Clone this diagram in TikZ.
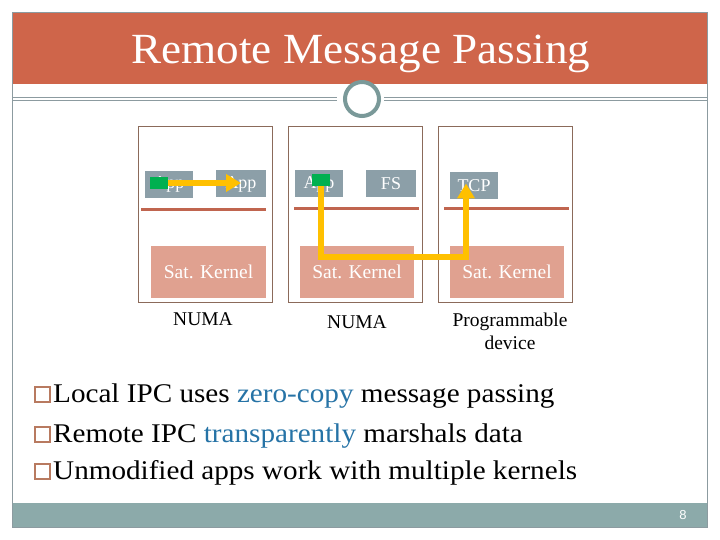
\documentclass[tikz,border=0pt]{standalone}
\usepackage{fontspec}
\setmainfont{Liberation Serif}
\newfontfamily\titlefont[FakeStretch=1.05]{Liberation Serif}
\newfontfamily\bulletfont[FakeStretch=1.08]{Liberation Serif}
\newfontfamily\pagefont{Liberation Sans}
\usepackage{tikz}
\usetikzlibrary{arrows.meta,positioning,calc}
\definecolor{titlebar}{HTML}{CF654A}
\definecolor{footbar}{HTML}{8CAAAA}
\definecolor{framegray}{HTML}{8C9BA0}
\definecolor{ringgray}{HTML}{7A9999}
\definecolor{cpuline}{HTML}{8B6A5A}
\definecolor{appfill}{HTML}{8C9FA8}
\definecolor{rule}{HTML}{C0654F}
\definecolor{kernfill}{HTML}{E0A190}
\definecolor{msggreen}{HTML}{00B050}
\definecolor{msgyellow}{HTML}{FFC000}
\definecolor{bulletbrown}{HTML}{B87A60}
\definecolor{hiblue}{HTML}{2673A6}

\begin{document}
\begin{tikzpicture}[x=1pt,y=-1pt,
  cpubox/.style={draw=cpuline,line width=0.8pt,minimum width=134pt,minimum height=176pt,inner sep=0pt},
  appbox/.style={fill=appfill,text=white,inner sep=0pt,minimum height=27pt,font=\fontsize{18}{18}\selectfont},
  kernbox/.style={fill=kernfill,text=white,inner sep=0pt,minimum height=52pt,font=\fontsize{19.5}{20}\selectfont},
  hwlabel/.style={align=center,font=\fontsize{19.5}{23}\selectfont},
  greenmark/.style={fill=msggreen,inner sep=0pt,minimum width=18pt,minimum height=12pt},
  flow/.style={draw=msgyellow,line width=6pt,-{Triangle[length=15pt,width=17pt]}}]
\useasboundingbox (0,0) rectangle (720,540);
\fill[white] (0,0) rectangle (720,540);
\fill[titlebar] (12,12) rectangle (707,84);
\fill[footbar] (12,503) rectangle (707,527);
\draw[framegray,line width=0.8pt] (12,12) rectangle (707,527);
\draw[framegray,line width=0.8pt] (12,97) -- (337,97) (384,97) -- (707,97);
\draw[framegray,line width=0.8pt] (12,100) -- (337,100) (384,100) -- (707,100);
\draw[ringgray,line width=4pt,fill=white] (362,99) circle (17);
\node[anchor=base,text=white,font=\titlefont\fontsize{43}{43}\selectfont] (title) at (361,64) {Remote Message Passing};
\node[text=white,font=\pagefont\fontsize{13}{13}\selectfont] (page) at (683,515) {8};

\foreach \i/\x in {1/138,2/288,3/438}{
  \node[cpubox] (cpu\i) at (\x+67,214) {};
}
\draw[rule,line width=3pt] (141,210) -- (266,210);
\draw[rule,line width=3pt] (294,209) -- (419,209);
\draw[rule,line width=3pt] (444,209) -- (569,209);

\node[appbox,minimum width=48pt] (app1a) at (169,184.5) {App};
\node[appbox,minimum width=50pt] (app1b) at (241,184) {App};
\node[appbox,minimum width=48pt] (app2a) at (319,184) {App};
\node[appbox,minimum width=50pt] (fs) at (391,183.5) {FS};
\node[appbox,minimum width=48pt] (tcp) at (474,185.5) {TCP};

\node[kernbox,minimum width=115pt] (kern1) at (208.5,272) {Sat. Kernel};
\node[kernbox,minimum width=114pt] (kern2) at (357,272) {Sat. Kernel};
\node[kernbox,minimum width=114pt] (kern3) at (507,272) {Sat. Kernel};

\node[hwlabel] (hw1) at (203,319) {NUMA};
\node[hwlabel] (hw2) at (357,322) {NUMA};
\node[hwlabel] (hw3) at (510,331) {Programmable\\device};

\node[greenmark] (g1) at (159,183) {};
\node[greenmark] (g2) at (321,180) {};
\coordinate (bend) at (400,257);
\draw[flow] (g1.east) -- (g1.east -| app1b.center);
\draw[flow] (g2.south) |- (bend) -| ([xshift=-8pt,yshift=2pt]tcp.center);

\foreach \y/\txt in {402/{Local IPC uses \textcolor{hiblue}{zero-copy} message passing},
  442/{Remote IPC \textcolor{hiblue}{transparently} marshals data},
  479/{Unmodified apps work with multiple kernels}}{
  \draw[bulletbrown,line width=1.5pt] (35,\y-15) rectangle (50,\y);
  \node[anchor=base west,inner sep=0pt,font=\bulletfont\fontsize{27}{27}\selectfont] at (53,\y) {\txt};
}
\end{tikzpicture}
\end{document}
